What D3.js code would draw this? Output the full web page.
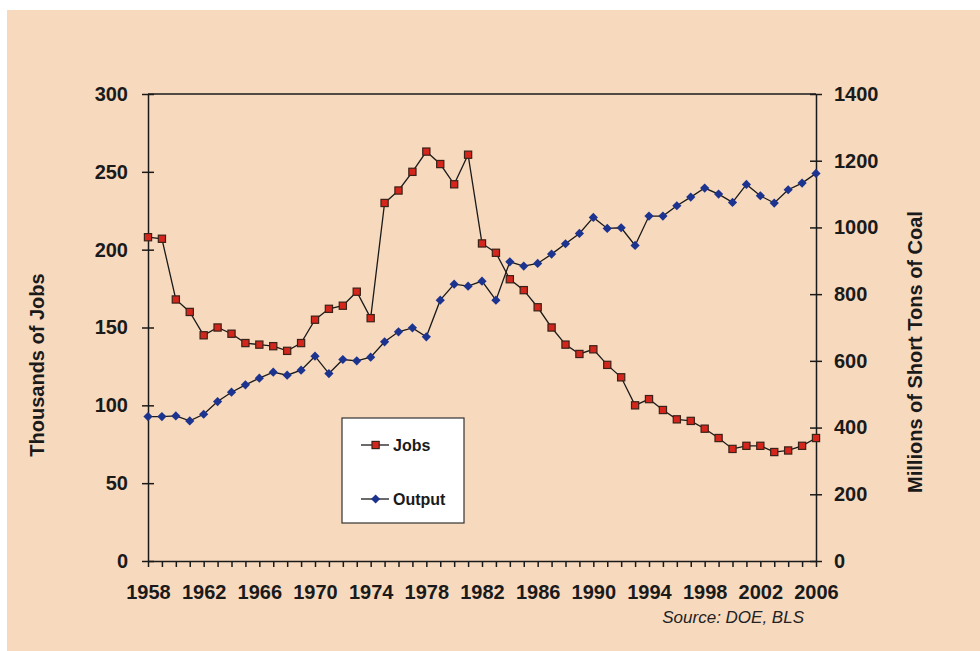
<!DOCTYPE html>
<meta charset="utf-8">
<head>
<style>
body { margin: 0; background: #fff; }
text { font-family: "Liberation Sans", Arial, sans-serif; fill: #1a1a1a; }
.axis text { font-size: 20px; font-weight: bold; }
.axis path, .axis line { stroke: #1a1a1a; stroke-width: 1.5px; }
.title { font-size: 20px; font-weight: bold; }
.series { fill: none; stroke: #1a1a1a; stroke-width: 1.3px; }
</style>
<script src="https://d3js.org/d3.v7.min.js"></script>
</head>
<body>
<script>

// data
var years = d3.range(1958, 2007);
var jobs = [208, 207, 168, 160, 145, 150, 146, 140, 139, 138, 135, 140, 155, 162, 164, 173, 156,
            230, 238, 250, 263, 255, 242, 261, 204, 198, 181, 174, 163, 150, 139, 133, 136, 126,
            118, 100, 104, 97, 91, 90, 85, 79, 72, 74, 74, 70, 71, 74, 79];
var output = [433, 433, 435, 420, 440, 478, 506, 528, 548, 566, 557, 572, 614, 562, 604, 600, 611,
              657, 687, 699, 672, 782, 830, 824, 839, 782, 897, 884, 892, 920, 951, 982, 1030, 997,
              999, 946, 1034, 1034, 1065, 1091, 1118, 1100, 1075, 1129, 1095, 1073, 1113, 1133, 1162];
var leftTicks = [0, 50, 100, 150, 200, 250, 300];
var rightTicks = [0, 200, 400, 600, 800, 1000, 1200, 1400];
var yearLabels = d3.range(1958, 2007, 4);

var width = 980, height = 651;
var margin = {top: 94, right: 164, bottom: 90, left: 148};

var x = d3.scaleLinear().domain([1958, 2006]).range([margin.left, width - margin.right]);
var yL = d3.scaleLinear().domain([0, 300]).range([height - margin.bottom, margin.top]);
var yR = d3.scaleLinear().domain([0, 1400]).range([height - margin.bottom, margin.top]);

var svg = d3.select("body").append("svg")
    .attr("width", width)
    .attr("height", height);

// peach panel
svg.append("rect")
    .attr("x", 7).attr("y", 10)
    .attr("width", width - 7).attr("height", height - 10)
    .attr("fill", "#f7d9be");

// top border of plot
svg.append("line")
    .attr("x1", x(1958)).attr("x2", x(2006))
    .attr("y1", yL(300)).attr("y2", yL(300))
    .attr("stroke", "#1a1a1a").attr("stroke-width", 1.5);

// left axis (ticks cross the line)
svg.append("g").attr("class", "axis")
    .attr("transform", "translate(" + x(1958) + ",0)")
    .call(d3.axisLeft(yL).tickValues(leftTicks).tickSize(6).tickSizeOuter(0).tickPadding(14));
svg.append("g").attr("class", "axis")
    .attr("transform", "translate(" + x(1958) + ",0)")
    .call(d3.axisRight(yL).tickValues(leftTicks).tickSize(6).tickSizeOuter(0).tickFormat(""))
    .select(".domain").remove();

// right axis
svg.append("g").attr("class", "axis")
    .attr("transform", "translate(" + x(2006) + ",0)")
    .call(d3.axisRight(yR).tickValues(rightTicks).tickSize(6).tickSizeOuter(0).tickPadding(12)
        .tickFormat(d3.format("d")));
svg.append("g").attr("class", "axis")
    .attr("transform", "translate(" + x(2006) + ",0)")
    .call(d3.axisLeft(yR).tickValues(rightTicks).tickSize(6).tickSizeOuter(0).tickFormat(""))
    .select(".domain").remove();

// bottom axis, tick every year, label every 4
svg.append("g").attr("class", "axis")
    .attr("transform", "translate(0," + yL(0) + ")")
    .call(d3.axisBottom(x).tickValues(years).tickSize(6).tickSizeOuter(0).tickPadding(18)
        .tickFormat(function(d) { return yearLabels.indexOf(d) >= 0 ? d : ""; }));

// lines
svg.append("path")
    .datum(output)
    .attr("class", "series")
    .attr("d", d3.line().x(function(d, i) { return x(years[i]); }).y(function(d) { return yR(d); }));
svg.append("path")
    .datum(jobs)
    .attr("class", "series")
    .attr("d", d3.line().x(function(d, i) { return x(years[i]); }).y(function(d) { return yL(d); }));

var diamond = "M0,-4.6L4.6,0L0,4.6L-4.6,0Z";

svg.append("g").selectAll("path")
    .data(output)
    .join("path")
    .attr("d", diamond)
    .attr("transform", function(d, i) { return "translate(" + x(years[i]) + "," + yR(d) + ")"; })
    .attr("fill", "#1c338f");

svg.append("g").selectAll("rect")
    .data(jobs)
    .join("rect")
    .attr("x", function(d, i) { return x(years[i]) - 3.6; })
    .attr("y", function(d) { return yL(d) - 3.6; })
    .attr("width", 7.2).attr("height", 7.2)
    .attr("fill", "#d4261c")
    .attr("stroke", "#3a2218")
    .attr("stroke-width", 1.2);

// axis titles
svg.append("text")
    .attr("class", "title")
    .attr("transform", "translate(44,365) rotate(-90)")
    .attr("text-anchor", "middle")
    .text("Thousands of Jobs");
svg.append("text")
    .attr("class", "title")
    .attr("transform", "translate(922,352) rotate(-90)")
    .attr("text-anchor", "middle")
    .text("Millions of Short Tons of Coal");

// source
svg.append("text")
    .attr("x", 804).attr("y", 623)
    .attr("text-anchor", "end")
    .style("font-size", "17px")
    .style("font-style", "italic")
    .style("fill", "#222")
    .text("Source: DOE, BLS");

// legend
var legend = svg.append("g");
legend.append("rect")
    .attr("x", 342).attr("y", 418)
    .attr("width", 122).attr("height", 105)
    .attr("fill", "#fff")
    .attr("stroke", "#333")
    .attr("stroke-width", 1.2);

var items = [{name: "Jobs", y: 445}, {name: "Output", y: 499}];
items.forEach(function(it, i) {
  legend.append("line")
      .attr("x1", 361).attr("x2", 389)
      .attr("y1", it.y).attr("y2", it.y)
      .attr("stroke", "#1a1a1a").attr("stroke-width", 1.3);
  if (i == 0) {
    legend.append("rect")
        .attr("x", 372).attr("y", it.y - 3.6)
        .attr("width", 7.2).attr("height", 7.2)
        .attr("fill", "#d4261c").attr("stroke", "#3a2218").attr("stroke-width", 1.2);
  } else {
    legend.append("path")
        .attr("d", diamond)
        .attr("transform", "translate(375.6," + it.y + ")")
        .attr("fill", "#1c338f");
  }
  legend.append("text")
      .attr("x", 393).attr("y", it.y)
      .attr("dy", "0.35em")
      .style("font-size", "16px")
      .style("font-weight", "bold")
      .text(it.name);
});

</script>
</body>
</html>
